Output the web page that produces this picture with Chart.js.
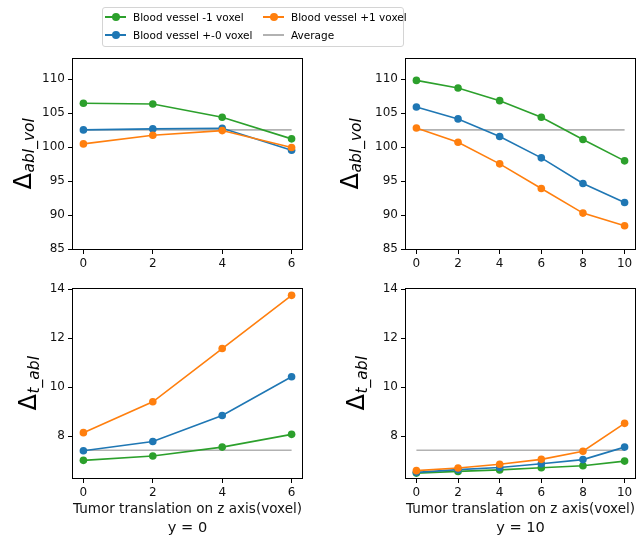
<!DOCTYPE html>
<html><head><meta charset="utf-8">
<script src="https://cdn.jsdelivr.net/npm/chart.js@4.4.0/dist/chart.umd.min.js"></script>
<style>
html,body{margin:0;padding:0;background:#fff;}
#wrap{position:relative;width:641px;height:542px;overflow:hidden;font-family:'DejaVu Sans',sans-serif;background:#fff;}
#wrap canvas{position:absolute;left:0;top:0;}
#legendBox{position:absolute;left:102px;top:7px;width:300px;height:38px;border:1px solid #d4d4d4;border-radius:3px;background:#fff;}
.lg-line{position:absolute;height:2px;width:21px;}
.lg-dot{position:absolute;width:8px;height:8px;border-radius:50%;}
.lg-text{position:absolute;font-size:10.5px;line-height:14px;height:14px;color:#000;white-space:nowrap;}
</style></head><body>
<div id="wrap">
  <canvas id="cTL" width="641" height="542"></canvas>
  <canvas id="cTR" width="641" height="542"></canvas>
  <canvas id="cBL" width="641" height="542"></canvas>
  <canvas id="cBR" width="641" height="542"></canvas>
  <div id="legendBox"></div>
  <div id="legendItems"></div>
</div>
<script>
// ---- data ----
const seriesLabels = ['Blood vessel -1 voxel', 'Blood vessel +-0 voxel', 'Blood vessel +1 voxel', 'Average'];
const xLeft = [0, 2, 4, 6];
const xRight = [0, 2, 4, 6, 8, 10];

const volLeftMinus1 = [106.47, 106.37, 104.41, 101.23];
const volLeftZero   = [102.55, 102.70, 102.79, 99.56];
const volLeftPlus1  = [100.49, 101.76, 102.45, 99.95];

const volRightMinus1 = [109.85, 108.73, 106.86, 104.41, 101.13, 97.99];
const volRightZero   = [105.93, 104.17, 101.57, 98.43, 94.66, 91.86];
const volRightPlus1  = [102.84, 100.74, 97.55, 93.92, 90.29, 88.43];
const volAverage = 102.55;

const tLeftMinus1 = [7.01, 7.19, 7.55, 8.07];
const tLeftZero   = [7.40, 7.78, 8.84, 10.42];
const tLeftPlus1  = [8.14, 9.40, 11.57, 13.74];

const tRightMinus1 = [6.49, 6.56, 6.62, 6.71, 6.79, 6.98];
const tRightZero   = [6.52, 6.63, 6.72, 6.87, 7.04, 7.55];
const tRightPlus1  = [6.59, 6.70, 6.85, 7.05, 7.38, 8.52];
const tAverage = 7.42;

const volTicks = [85, 90, 95, 100, 105, 110];
const tTicks = [8, 10, 12, 14];
const xTicksLeft = [0, 2, 4, 6];
const xTicksRight = [0, 2, 4, 6, 8, 10];
const xAxisTitle = 'Tumor translation on z axis(voxel)';
const panelTitleLeft = 'y = 0';
const panelTitleRight = 'y = 10';

// ---- styles ----
const GREEN = '#2ca02c', BLUE = '#1f77b4', ORANGE = '#ff7f0e', GRAY = '#b2b2b2';
const FONT = "'DejaVu Sans', sans-serif";
const W = 641, H = 542, YW = 40;

function framePlugin() {
  return {
    id: 'frame',
    afterDraw(chart) {
      const a = chart.chartArea, ctx = chart.ctx;
      ctx.save();
      ctx.strokeStyle = '#000';
      ctx.lineWidth = 1;
      ctx.strokeRect(Math.round(a.left) - 0.5, Math.round(a.top) - 0.5,
                     Math.round(a.right) - Math.round(a.left) + 1, Math.round(a.bottom) - Math.round(a.top) + 1);
      ctx.restore();
    }
  };
}
function yLabelPlugin(main, sub, gap) {
  return {
    id: 'ylab',
    afterDraw(chart) {
      const a = chart.chartArea, ctx = chart.ctx;
      const cy = (a.top + a.bottom) / 2;
      const base = a.left - gap;
      ctx.save();
      ctx.translate(base, cy);
      ctx.rotate(-Math.PI / 2);
      ctx.fillStyle = '#000';
      ctx.textAlign = 'left';
      ctx.textBaseline = 'alphabetic';
      ctx.font = '24px ' + FONT;
      const w1 = ctx.measureText(main).width;
      ctx.font = 'italic 15.5px ' + FONT;
      const w2 = ctx.measureText(sub).width;
      const x0 = -(w1 + w2) / 2;
      ctx.font = '24px ' + FONT;
      ctx.fillText(main, x0, 0);
      ctx.font = 'italic 15.5px ' + FONT;
      ctx.fillText(sub, x0 + w1 + 0.5, 2.5);
      ctx.restore();
    }
  };
}

function makeChart(c) {
  const xs = c.xs;
  const pts = arr => xs.map((x, i) => ({x: x, y: arr[i]}));
  const lineDs = (label, arr, color, order) => ({
    label: label, data: pts(arr), borderColor: color, backgroundColor: color,
    pointBackgroundColor: color, pointBorderColor: color, pointBorderWidth: 0,
    pointRadius: 3.8, borderWidth: 1.6, tension: 0, order: order
  });
  const xh = c.xTitle ? 59 : 22;
  new Chart(document.getElementById(c.id), {
    type: 'line',
    data: {
      datasets: [
        lineDs(seriesLabels[0], c.m1, GREEN, 3),
        lineDs(seriesLabels[1], c.z0, BLUE, 2),
        lineDs(seriesLabels[2], c.p1, ORANGE, 1),
        { label: seriesLabels[3], data: [{x: xs[0], y: c.avg}, {x: xs[xs.length - 1], y: c.avg}],
          borderColor: GRAY, borderWidth: 1.6, pointRadius: 0, order: 4 }
      ]
    },
    options: {
      responsive: false, animation: false, events: [],
      devicePixelRatio: 1,
      plugins: { legend: { display: false }, tooltip: { enabled: false } },
      layout: { padding: { left: c.area.left - YW, top: c.area.top, right: W - c.area.right, bottom: H - c.area.bottom - xh } },
      scales: {
        x: {
          type: 'linear', min: c.xMin, max: c.xMax,
          afterBuildTicks: s => { s.ticks = c.xTicks.map(v => ({value: v})); },
          afterFit: s => { s.height = xh; },
          grid: { display: true, drawOnChartArea: false, drawTicks: true, tickLength: 5, color: '#000', lineWidth: 1 },
          border: { display: false },
          ticks: { font: { family: FONT, size: 12 }, color: '#111', padding: 3, maxRotation: 0, autoSkip: false },
          title: c.xTitle ? { display: true, text: c.xTitle, color: '#111', padding: 0,
                              font: { family: FONT, size: 14.6, lineHeight: 1.25 } } : { display: false }
        },
        y: {
          type: 'linear', min: c.yMin, max: c.yMax,
          afterBuildTicks: s => { s.ticks = c.yTicks.map(v => ({value: v})); },
          afterFit: s => { s.width = YW; },
          grid: { display: true, drawOnChartArea: false, drawTicks: true, tickLength: 5, color: '#000', lineWidth: 1 },
          border: { display: false },
          ticks: { font: { family: FONT, size: 12 }, color: '#111', padding: 3, autoSkip: false }
        }
      }
    },
    plugins: [framePlugin(), yLabelPlugin(c.yMain, c.ySub, c.labelGap)]
  });
}

makeChart({ id: 'cTL', area: {left: 73, top: 59, right: 302, bottom: 249}, xs: xLeft, xTicks: xTicksLeft,
  xMin: -0.3, xMax: 6.3, yMin: 85, yMax: 113, yTicks: volTicks, labelGap: 42,
  m1: volLeftMinus1, z0: volLeftZero, p1: volLeftPlus1, avg: volAverage, yMain: 'Δ', ySub: 'abl_vol' });
makeChart({ id: 'cTR', area: {left: 406, top: 59, right: 635, bottom: 249}, xs: xRight, xTicks: xTicksRight,
  xMin: -0.5, xMax: 10.5, yMin: 85, yMax: 113, yTicks: volTicks, labelGap: 48,
  m1: volRightMinus1, z0: volRightZero, p1: volRightPlus1, avg: volAverage, yMain: 'Δ', ySub: 'abl_vol' });
makeChart({ id: 'cBL', area: {left: 73, top: 289, right: 302, bottom: 478}, xs: xLeft, xTicks: xTicksLeft,
  xMin: -0.3, xMax: 6.3, yMin: 6.29, yMax: 14, yTicks: tTicks, labelGap: 37,
  m1: tLeftMinus1, z0: tLeftZero, p1: tLeftPlus1, avg: tAverage, yMain: 'Δ', ySub: 't_abl',
  xTitle: [xAxisTitle, panelTitleLeft] });
makeChart({ id: 'cBR', area: {left: 406, top: 289, right: 635, bottom: 478}, xs: xRight, xTicks: xTicksRight,
  xMin: -0.5, xMax: 10.5, yMin: 6.29, yMax: 14, yTicks: tTicks, labelGap: 42,
  m1: tRightMinus1, z0: tRightZero, p1: tRightPlus1, avg: tAverage, yMain: 'Δ', ySub: 't_abl',
  xTitle: [xAxisTitle, panelTitleRight] });

// ---- legend (HTML, real text) ----
const legendColors = [GREEN, BLUE, ORANGE, GRAY];
const legendPos = [ {lx: 105, tx: 133, cy: 17}, {lx: 105, tx: 133, cy: 34.5},
                    {lx: 263, tx: 291, cy: 17}, {lx: 263, tx: 291, cy: 34.5} ];
const li = document.getElementById('legendItems');
seriesLabels.forEach((lab, i) => {
  const p = legendPos[i];
  const line = document.createElement('div');
  line.className = 'lg-line';
  line.style.left = p.lx + 'px'; line.style.top = (p.cy - 1) + 'px';
  line.style.background = legendColors[i];
  li.appendChild(line);
  if (i < 3) {
    const dot = document.createElement('div');
    dot.className = 'lg-dot';
    dot.style.left = (p.lx + 10.5 - 4) + 'px'; dot.style.top = (p.cy - 4) + 'px';
    dot.style.background = legendColors[i];
    li.appendChild(dot);
  }
  const t = document.createElement('div');
  t.className = 'lg-text';
  t.style.left = p.tx + 'px'; t.style.top = (p.cy - 7) + 'px';
  t.textContent = lab;
  li.appendChild(t);
});
</script>
</body></html>
